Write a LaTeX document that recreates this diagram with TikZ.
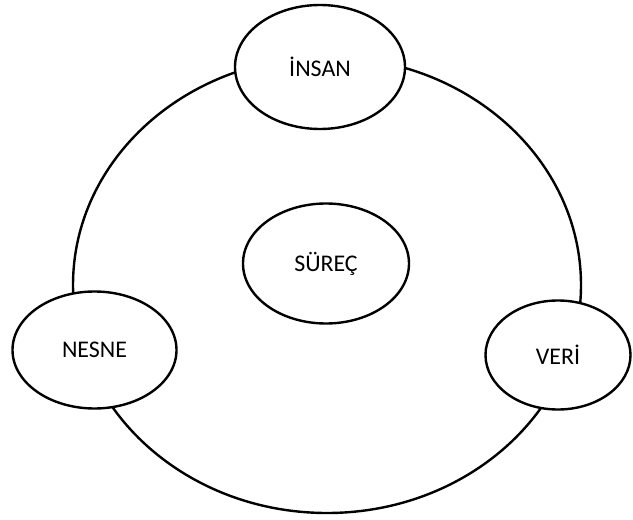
\documentclass[tikz,border=0pt]{standalone}
\usepackage{fontspec}
\setmainfont{Carlito}
\usetikzlibrary{shapes.geometric}

\begin{document}
\begin{tikzpicture}[x=1bp, y=-1bp, line width=2.4bp,
        part/.style={draw=black, fill=white, ellipse, inner sep=0pt, font=\fontsize{24}{26}\selectfont}]
        \useasboundingbox (0, 0) rectangle (633, 520);  % Frame
        \draw[black] (327, 285) ellipse (254 and 228);  % Outer Ring
        \node[part, minimum width=170bp, minimum height=124bp] (insan) at (320, 67) {İNSAN};
        \node[part, minimum width=166bp, minimum height=120bp] (surec) at (326, 263.5) {SÜREÇ};
        \node[part, minimum width=164bp, minimum height=117bp] (nesne) at (94.5, 350) {NESNE};
        \node[part, minimum width=145bp, minimum height=109bp] (veri) at (558, 355) {VERİ};
    \end{tikzpicture}
\end{document}
